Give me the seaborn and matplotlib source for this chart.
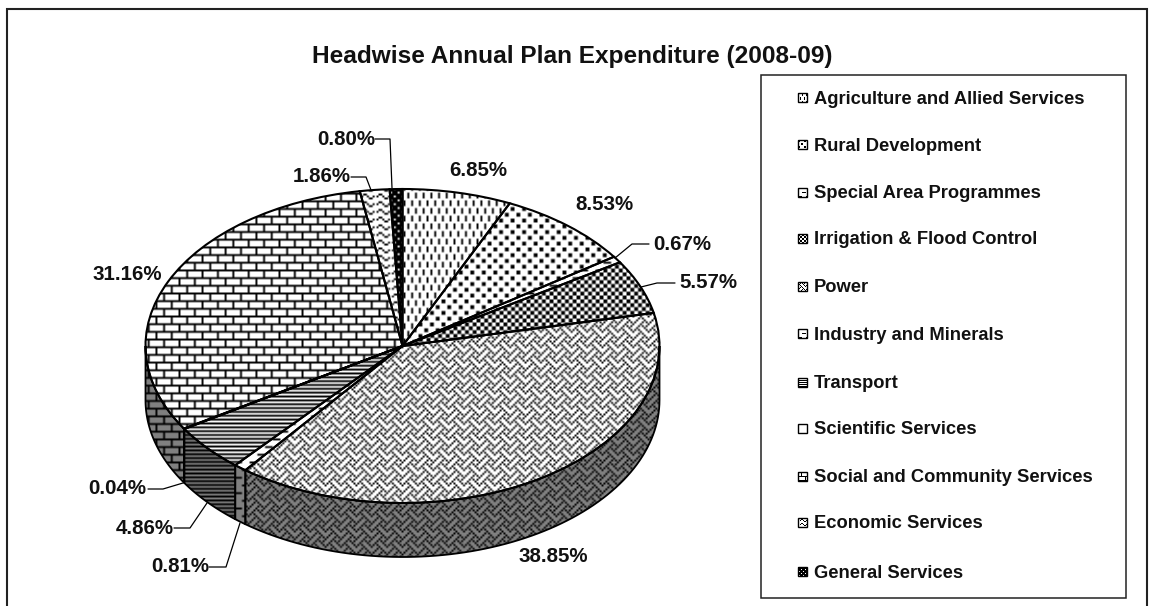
import numpy as np
import seaborn as sns
import matplotlib.pyplot as plt
from matplotlib.patches import Rectangle

# Data
heads = ["Agriculture and Allied Services", "Rural Development", "Special Area Programmes",
         "Irrigation & Flood Control", "Power", "Industry and Minerals", "Transport",
         "Scientific Services", "Social and Community Services", "Economic Services",
         "General Services"]
shares = [6.85, 8.53, 0.67, 5.57, 38.85, 0.81, 4.86, 0.04, 31.16, 1.86, 0.80]
title = "Headwise Annual Plan Expenditure (2008-09)"

# Excel style pattern fills, # black + grey . white
tiles = [
    ["#...", "#...", "#...", "....", "..#.", "..#.", "..#.", "...."],
    ["##....", "##....", "......", "...##.", "...##.", "......"],
    ["####....", "........", "........", "........", "....####", "........", "........", "........"],
    ["##..", "##..", "..##", "..##"],
    ["...#...#", "..#.#.#.", ".#...#..", "#.#...#.", "...#...#", "..#.#...", ".#...#..", "#...#.#."],
    ["####....", "........", "........", "........", "....####", "........", "........", "........"],
    ["#", "."],
    ["."],
    ["########", "...#....", "...#....", "...#....", "########", ".......#", ".......#", ".......#"],
    ["........", "...##...", "#.#..#..", "......##"],
    ["#.##", "####", "###.", "####"],
]

# Pie geometry in pixels of the 1151x606 picture
cx, cy, rx, ry, depth = 402.5, 346, 257, 157, 54
cell = 1.92

sns.set_theme(style="white")
plt.rcParams["font.family"] = ["Liberation Sans", "DejaVu Sans"]
plt.rcParams["font.weight"] = "bold"


def px(x, y):
    return (x - cx) / rx, (cy - y) / ry


def tile_array(tile):
    return np.array([[{"#": 0.0, "+": 0.5, ".": 1.0}[c] for c in row] for row in tile])


def fill_pattern(patch, tile, box, shade=1.0, size=cell):
    # pattern image clipped to a patch
    x0, y0, x1, y1 = box
    arr = tile_array(tile)
    reps = (int((y1 - y0) / size / arr.shape[0]) + 1, int((x1 - x0) / size / arr.shape[1]) + 1)
    big = np.tile(arr, reps) * shade
    left, top = px(x0, y0)
    right, bottom = px(x0 + big.shape[1] * size, y0 + big.shape[0] * size)
    im = ax.imshow(big, cmap="gray", vmin=0, vmax=1, aspect="auto", interpolation="bilinear",
                   extent=(left, right, bottom, top), zorder=0.5)
    im.set_clip_path(patch)


fig = plt.figure(figsize=(11.51, 6.06), dpi=100, facecolor="white")
ax = fig.add_axes([0, 0, 1, 1])

wedges, _ = ax.pie(shares, startangle=90, counterclock=False, radius=1,
                   wedgeprops=dict(facecolor="none", edgecolor="black", linewidth=1.5))
pie_box = (cx - rx - 4, cy - ry - 4, cx + rx + 4, cy + ry + depth + 4)
for wedge, tile in zip(wedges, tiles):
    fill_pattern(wedge, tile, pie_box)

# Side wall of the front half
edges = np.cumsum([0] + shares) / sum(shares)
dz = depth / ry
for start, end, tile in zip(edges[:-1], edges[1:], tiles):
    lo, hi = max(start, 0.25), min(end, 0.75)
    if hi <= lo:
        continue
    f = np.linspace(lo, hi, 80)
    xs, ys = np.sin(2 * np.pi * f), np.cos(2 * np.pi * f)
    wall = ax.fill(np.r_[xs, xs[::-1]], np.r_[ys, ys[::-1] - dz],
                   facecolor="none", edgecolor="black", linewidth=1.3)[0]
    fill_pattern(wall, tile, pie_box, shade=0.5)

# Data labels, centres in pixels
label_pos = [(478, 170), (604, 205), (682, 244), (708, 283), (553, 557), (180, 567),
             (145, 528), (117, 489), (127, 274), (322, 177), (346, 139)]
for value, (x, y) in zip(shares, label_pos):
    ax.text(*px(x, y), f"{value:.2f}%", fontsize=14.8, ha="center", va="center",
            color="#111111", zorder=3)

# Leader lines
leaders = [
    [(375, 139), (390, 139), (392, 188)],
    [(351, 177), (366, 177), (371, 190)],
    [(649, 244), (632, 244), (615, 258)],
    [(675, 283), (657, 283), (641, 287)],
    [(148, 489), (163, 489), (183, 483)],
    [(174, 528), (190, 528), (207, 503)],
    [(209, 567), (226, 567), (240, 523)],
]
for line in leaders:
    pts = np.array([px(x, y) for x, y in line])
    ax.plot(pts[:, 0], pts[:, 1], color="black", linewidth=0.9, zorder=2)

# Chart frame and title
fx0, fy0 = px(7, 9)
fx1, fy1 = px(1147, 640)
ax.add_patch(Rectangle((fx0, fy1), fx1 - fx0, fy0 - fy1, fill=False, edgecolor="#222222", linewidth=1.5))
ax.text(*px(572, 57), title, fontsize=17.6, ha="center", va="center", color="#111111")

# Legend box
lx0, ly0 = px(761, 75)
lx1, ly1 = px(1126, 598)
ax.add_patch(Rectangle((lx0, ly1), lx1 - lx0, ly0 - ly1, fill=False, edgecolor="#222222", linewidth=1.1))
legend_y = [98, 145, 193, 239, 287, 334, 383, 429, 477, 523, 572]
for name, tile, y in zip(heads, tiles, legend_y):
    sx, sy = px(798, y - 5)
    sx1, sy1 = px(807, y + 4)
    swatch = Rectangle((sx, sy1), sx1 - sx, sy - sy1, facecolor="none", edgecolor="black", linewidth=1.0)
    ax.add_patch(swatch)
    fill_pattern(swatch, tile, (798, y - 5, 807, y + 4), size=1)
    ax.text(*px(814, y + 1), name, fontsize=13.2, ha="left", va="center", color="#111111")

ax.set_aspect("auto")
ax.set_xlim(px(0, 0)[0], px(1151, 0)[0])
ax.set_ylim(px(0, 606)[1], px(0, 0)[1])
ax.set_axis_off()

plt.savefig("out.png", dpi=100, facecolor="white")
